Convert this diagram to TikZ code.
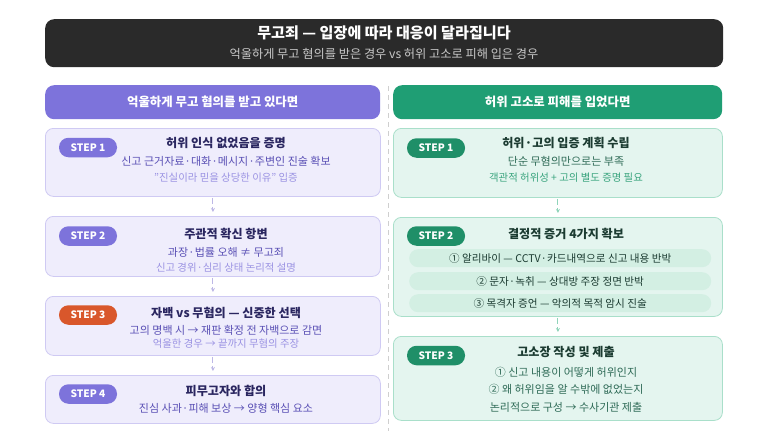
\documentclass[tikz,border=0pt]{standalone}
\usepackage{fontspec}
\setmainfont{Noto Sans CJK KR}
\usetikzlibrary{arrows.meta}
\newcommand\md{\kern0.02em·\kern0.02em}
\definecolor{darkbg}{HTML}{2A2A2A}
\definecolor{subgray}{HTML}{C8C8C8}
\definecolor{purp}{HTML}{7D73DB}
\definecolor{lfill}{HTML}{EFEDFC}
\definecolor{lborder}{HTML}{CFCAF3}
\definecolor{ltitle}{HTML}{2A2660}
\definecolor{lline}{HTML}{5A50B5}
\definecolor{lpale}{HTML}{9B93E3}
\definecolor{orng}{HTML}{D9572B}
\definecolor{grn}{HTML}{1F9E74}
\definecolor{grnpill}{HTML}{1F8F68}
\definecolor{rfill}{HTML}{E4F5EF}
\definecolor{rborder}{HTML}{A9DFCA}
\definecolor{rtitle}{HTML}{1B3B31}
\definecolor{rline}{HTML}{2F6B57}
\definecolor{rpale}{HTML}{3BA57F}
\definecolor{rrow}{HTML}{D3EFE3}
\definecolor{divgray}{HTML}{CFCFCF}
\definecolor{larr}{HTML}{BDB8E6}
\definecolor{rarr}{HTML}{8FD4BA}
\tikzset{
  box/.style={draw, line width=0.8pt, rounded corners=8pt, anchor=north west, inner sep=0pt},
  lbox/.style={box, fill=lfill, draw=lborder, minimum width=335pt},
  rbox/.style={box, fill=rfill, draw=rborder, minimum width=329pt},
  hdr/.style={rounded corners=9pt, anchor=north west, minimum height=34pt, inner sep=0pt, text=white, font=\fontsize{12.4}{14}\selectfont\bfseries},
  pill/.style={rounded corners=9.5pt, minimum width=58pt, minimum height=19.5pt, inner sep=0pt, text=white, font=\fontsize{10.2}{11}\selectfont\bfseries},
  ttl/.style={inner sep=0pt, font=\fontsize{12.1}{14}\selectfont\bfseries},
  bodyA/.style={inner sep=0pt, font=\fontsize{11}{13}\selectfont},
  bodyB/.style={inner sep=0pt, font=\fontsize{10.4}{12}\selectfont},
  rowbox/.style={fill=rrow, rounded corners=9pt, anchor=north west, minimum width=302pt, minimum height=18pt, inner sep=0pt, text=rtitle, font=\fontsize{10.6}{12}\selectfont},
  larrow/.style={draw=larr, line width=0.9pt, dash pattern=on 6pt off 3pt, -{Stealth[length=4pt,width=4pt]}, shorten <=1pt, shorten >=4pt},
  rarrow/.style={draw=rarr, line width=0.9pt, dash pattern=on 6pt off 3pt, -{Stealth[length=4pt,width=4pt]}, shorten <=1pt, shorten >=4pt},
}
\begin{document}
\begin{tikzpicture}[x=1pt,y=-1pt]
\useasboundingbox[fill=white] (0,0) rectangle (768,431);
% title
\node[fill=darkbg, rounded corners=9pt, anchor=north west, minimum width=678pt, minimum height=48pt, inner sep=0pt] (title) at (45,19) {};
\node[inner sep=0pt, text=white, font=\fontsize{15.1}{17}\selectfont\bfseries] (t1) at (384,33) {무고죄 — 입장에 따라 대응이 달라집니다};
\node[inner sep=0pt, text=subgray, font=\fontsize{12.2}{14}\selectfont] (t2) at (384,54) {억울하게 무고 혐의를 받은 경우 vs 허위 고소로 피해 입은 경우};
% divider
\coordinate (dv1) at (388,86);
\coordinate (dv2) at (388,431);
\draw[divgray, line width=1pt, dash pattern=on 5pt off 4pt] (dv1) -- (dv2);
% headers
\node[hdr, fill=purp, minimum width=335pt] (lh) at (45,85) {억울하게 무고 혐의를 받고 있다면};
\node[hdr, fill=grn, minimum width=329pt] (rh) at (393,85) {허위 고소로 피해를 입었다면};

% ---------- left column ----------
\node[lbox, minimum height=68pt] (l1) at (45,128) {};
\node[pill, fill=purp] (lp1) at (88,147.5) {STEP 1};
\node[ttl, text=ltitle] (l1a) at (226,143) {허위 인식 없었음을 증명};
\node[bodyA, text=lline] (l1b) at (226,161) {신고 근거자료\md 대화\md 메시지\md 주변인 진술 확보};
\node[bodyB, text=lpale] (l1c) at (226,178) {"진실이라 믿을 상당한 이유" 입증};

\node[lbox, minimum height=60pt] (l2) at (45,216) {};
\node[pill, fill=purp] (lp2) at (88,236) {STEP 2};
\node[ttl, text=ltitle] (l2a) at (226,233.5) {주관적 확신 항변};
\node[bodyA, text=lline] (l2b) at (226,252) {과장\md 법률 오해 ≠ 무고죄};
\node[bodyB, text=lpale] (l2c) at (226,267.5) {신고 경위\md 심리 상태 논리적 설명};

\node[lbox, minimum height=59pt] (l3) at (45,296) {};
\node[pill, fill=orng] (lp3) at (88,315) {STEP 3};
\node[ttl, text=ltitle] (l3a) at (226,313) {자백 vs 무혐의 — 신중한 선택};
\node[bodyA, text=lline] (l3b) at (226,330) {고의 명백 시 → 재판 확정 전 자백으로 감면};
\node[bodyB, text=lpale] (l3c) at (226,344) {억울한 경우 → 끝까지 무혐의 주장};

\node[lbox, minimum height=48pt] (l4) at (45,375) {};
\node[pill, fill=purp] (lp4) at (88,394) {STEP 4};
\node[ttl, text=ltitle] (l4a) at (226,390.5) {피무고자와 합의};
\node[bodyA, text=lline] (l4b) at (226,408.5) {진심 사과\md 피해 보상 → 양형 핵심 요소};

\draw[larrow] (l1.south) -- (l2.north);
\draw[larrow] (l2.south) -- (l3.north);
\draw[larrow] (l3.south) -- (l4.north);

% ---------- right column ----------
\node[rbox, minimum height=69pt] (r1) at (393,128) {};
\node[pill, fill=grnpill] (rp1) at (436,148) {STEP 1};
\node[ttl, text=rtitle] (r1a) at (566,143) {허위\md 고의 입증 계획 수립};
\node[bodyA, text=rline] (r1b) at (566,161) {단순 무혐의만으로는 부족};
\node[bodyB, text=rpale] (r1c) at (566,178) {객관적 허위성 + 고의 별도 증명 필요};

\node[rbox, minimum height=99pt] (r2) at (393,217) {};
\node[pill, fill=grnpill] (rp2) at (436,236) {STEP 2};
\node[ttl, text=rtitle] (r2a) at (566,233.5) {결정적 증거 4가지 확보};
\node[rowbox] (rw1) at (409,249) {① 알리바이 — CCTV\md 카드내역으로 신고 내용 반박};
\node[rowbox] (rw2) at (409,272) {② 문자\md 녹취 — 상대방 주장 정면 반박};
\node[rowbox] (rw3) at (409,294) {③ 목격자 증언 — 악의적 목적 암시 진술};

\node[rbox, minimum height=84pt] (r3) at (393,336) {};
\node[pill, fill=grnpill] (rp3) at (436,355.5) {STEP 3};
\node[ttl, text=rtitle] (r3a) at (566,352) {고소장 작성 및 제출};
\node[bodyA, text=rline] (r3b) at (566,372) {① 신고 내용이 어떻게 허위인지};
\node[bodyA, text=rline] (r3c) at (566,389.5) {② 왜 허위임을 알 수밖에 없었는지};
\node[bodyA, text=rline] (r3d) at (566,407) {논리적으로 구성 → 수사기관 제출};

\draw[rarrow] (r1.south) -- (r2.north);
\draw[rarrow] (r2.south) -- (r3.north);
\end{tikzpicture}
\end{document}
